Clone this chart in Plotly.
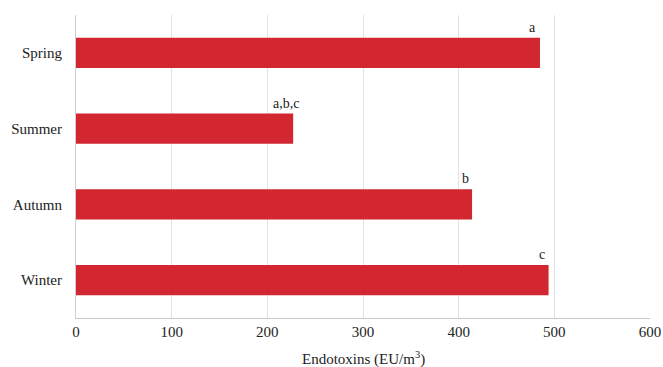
import plotly.graph_objects as go

categories = ["Spring", "Summer", "Autumn", "Winter"]
values = [485, 227, 414, 494]
letters = ["a", "a,b,c", "b", "c"]

SERIF = "Liberation Serif, Times New Roman, serif"

fig = go.Figure()
fig.add_trace(go.Bar(
    y=categories, x=values, orientation="h",
    marker=dict(color="#d22630", line=dict(width=0)),
    width=0.4,
))

for c, v, t in zip(categories, values, letters):
    fig.add_annotation(x=v, y=c, text=t, showarrow=False,
                       xanchor="center", yanchor="bottom",
                       xshift=-7, yshift=16,
                       font=dict(family=SERIF, size=14, color="#222"))

fig.add_annotation(x=0.5, y=-0.095, xref="paper", yref="paper",
                   text="Endotoxins (EU/m<sup>3</sup>)", showarrow=False,
                   xanchor="center", yanchor="top",
                   font=dict(family=SERIF, size=15, color="#222"))

fig.update_layout(
    width=663, height=367,
    margin=dict(l=76, r=13, t=15, b=49, autoexpand=False),
    plot_bgcolor="white", paper_bgcolor="white",
    showlegend=False,
    font=dict(family=SERIF, size=15, color="#222"),
    xaxis=dict(range=[0, 600], dtick=100, showgrid=True, gridcolor="#e3e3e3",
               gridwidth=1, zeroline=False, showline=True, linecolor="#c8c8c8",
               ticks="", tickfont=dict(family=SERIF, size=15), fixedrange=True,
               automargin=False),
    yaxis=dict(categoryorder="array", categoryarray=categories[::-1],
               showgrid=False, showline=True, linecolor="#d0d0d0",
               ticks="", ticklabelstandoff=10, automargin=False,
               tickfont=dict(family=SERIF, size=15)),
)

fig.write_html("out.html")
